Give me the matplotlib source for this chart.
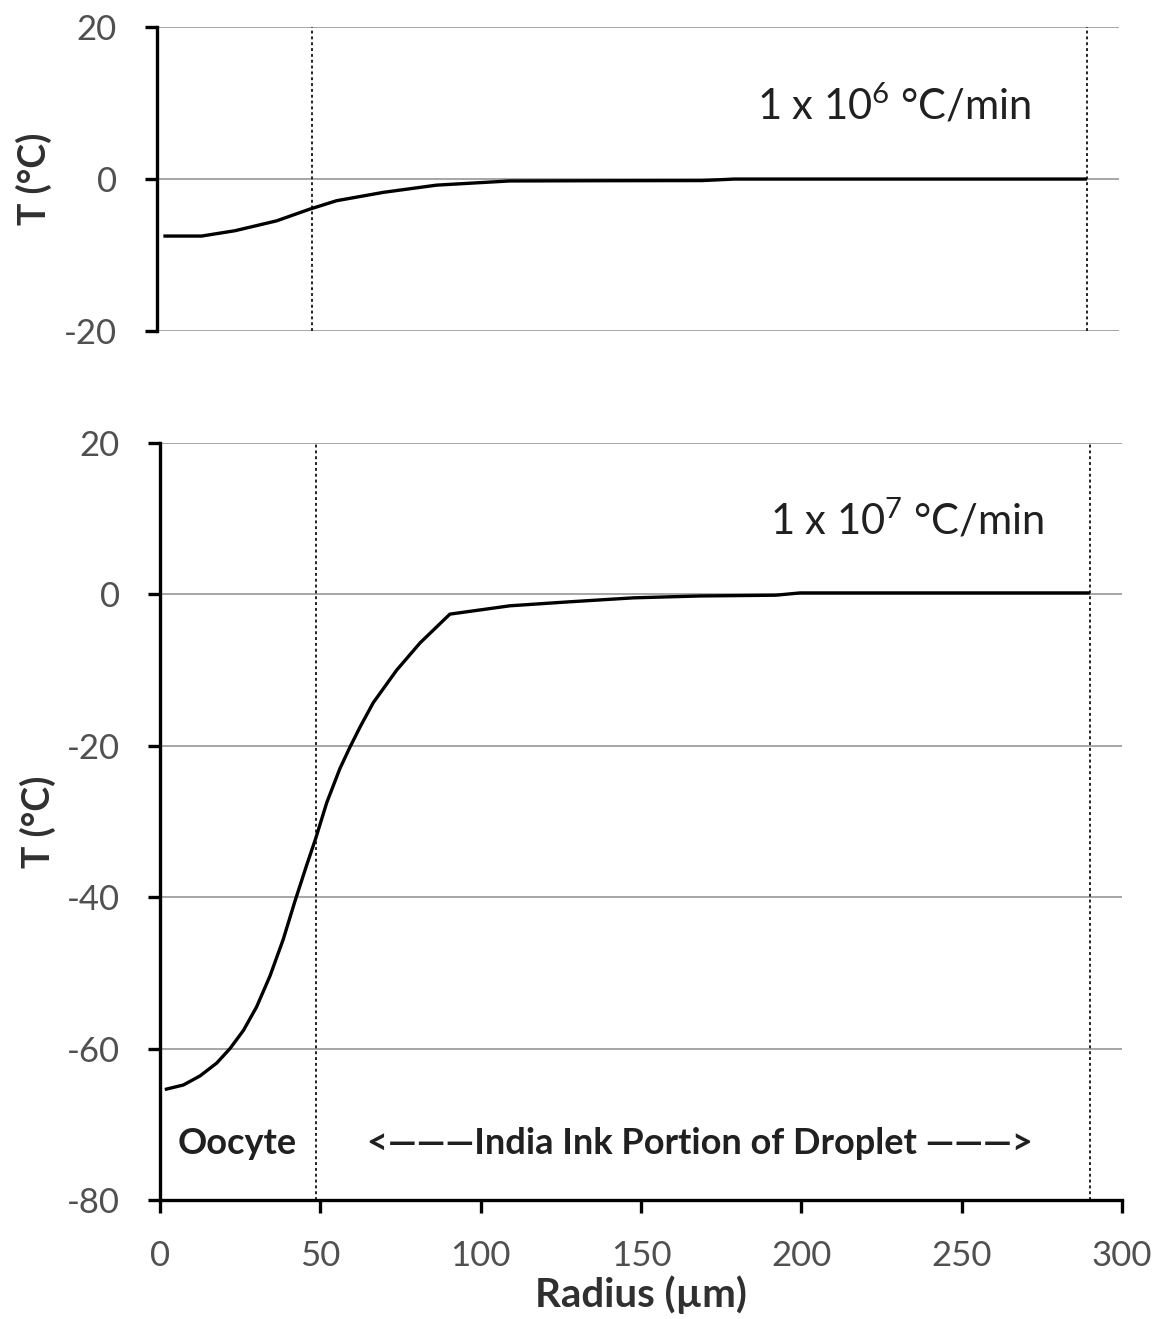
import matplotlib
matplotlib.use("Agg")
import matplotlib.pyplot as plt

plt.rcParams['font.family'] = ['Lato', 'DejaVu Sans']
plt.rcParams['mathtext.fontset'] = 'custom'
plt.rcParams['mathtext.rm'] = 'Lato'
plt.rcParams['mathtext.default'] = 'rm'
plt.rcParams['axes.unicode_minus'] = False

# Top panel: 1 x 10^6 °C/min
r_top = [2.0, 13.9, 24.3, 37.3, 47.7, 56.0, 70.6, 87.2, 101.7, 110, 138, 170, 180, 200, 250, 290]
T_top = [-7.5, -7.5, -6.8, -5.5, -3.95, -2.85, -1.75, -0.8, -0.45, -0.25, -0.22, -0.2, 0.0, 0.0, 0.0, 0.0]

# Bottom panel: 1 x 10^7 °C/min
r_bot = [1.5, 7.3, 12.5, 17.7, 21.8, 26.0, 30.1, 34.3, 38.4, 42.1, 45.7, 48.5, 52.0, 56.1,
         59.2, 62.4, 66.5, 73.8, 81.1, 90.4, 109.1, 126.7, 147.6, 168.4, 192, 199.6, 250, 290]
T_bot = [-65.4, -64.8, -63.6, -61.9, -60.0, -57.6, -54.5, -50.4, -45.6, -40.5, -35.8, -32.3,
         -27.5, -23.0, -20.2, -17.5, -14.3, -10.0, -6.4, -2.6, -1.5, -1.0, -0.45, -0.2, -0.1,
         0.2, 0.2, 0.2]

boundaries = [48.5, 290]
xticks = [0, 50, 100, 150, 200, 250, 300]
yticks_top = [-20, 0, 20]
yticks_bot = [-80, -60, -40, -20, 0, 20]

tick_color = '#505050'
label_color = '#303030'
grid_color = '#a6a6a6'

fig = plt.figure(figsize=(11.68, 13.19), dpi=100)
ax1 = fig.add_axes([0.1344, 0.749, 0.8236, 0.2305])
ax2 = fig.add_axes([0.1370, 0.0902, 0.8236, 0.5739])

def style(ax, yticks, show_x):
    ax.set_xlim(0, 300)
    ax.set_ylim(yticks[0], yticks[-1])
    ax.set_yticks(yticks)
    for y in yticks:
        if show_x and y == yticks[0]:
            continue
        ax.axhline(y, color=grid_color, lw=1.4, zorder=0)
    ax.spines['top'].set_visible(False)
    ax.spines['right'].set_visible(False)
    ax.spines['left'].set_linewidth(2.4)
    ax.spines['left'].set_color('black')
    ax.tick_params(axis='y', direction='out', length=9, width=2.4, colors='black',
                   labelcolor=tick_color, labelsize=25, pad=20)
    if show_x:
        ax.set_xticks(xticks)
        ax.spines['bottom'].set_linewidth(2.4)
        ax.tick_params(axis='x', direction='out', length=9, width=2.4, colors='black',
                       labelcolor=tick_color, labelsize=25, pad=20)
    else:
        ax.spines['bottom'].set_visible(False)
        ax.set_xticks([])
    for b in boundaries:
        ax.axvline(b, color='#222222', lw=1.4, ls=(0, (1.5, 1.5)), zorder=1)
    ax.set_ylabel('T (°C)', fontsize=27, fontweight='bold', color=label_color, labelpad=8)

style(ax1, yticks_top, False)
style(ax2, yticks_bot, True)

ax1.plot(r_top, T_top, color='black', lw=2.4, zorder=3, solid_capstyle='butt')
ax2.plot(r_bot, T_bot, color='black', lw=2.4, zorder=3, solid_capstyle='butt')

ax1.text(230, 9.7, '1 x 10$^{6}$ °C/min', fontsize=30, ha='center', va='center', color='#202020')
ax2.text(233, 9.8, '1 x 10$^{7}$ °C/min', fontsize=30, ha='center', va='center', color='#202020')

ax2.text(5.5, -72.5, 'Oocyte', fontsize=26, fontweight='bold', ha='left', va='center', color='#202020')
ax2.text(168.5, -72.5, '<\u2014\u2014\u2014India Ink Portion of Droplet \u2014\u2014\u2014>', fontsize=26,
         fontweight='bold', ha='center', va='center', color='#202020')

ax2.set_xlabel('Radius (µm)', fontsize=29, fontweight='bold', color=label_color, labelpad=2)

fig.savefig('out.png', dpi=100, facecolor='white')
